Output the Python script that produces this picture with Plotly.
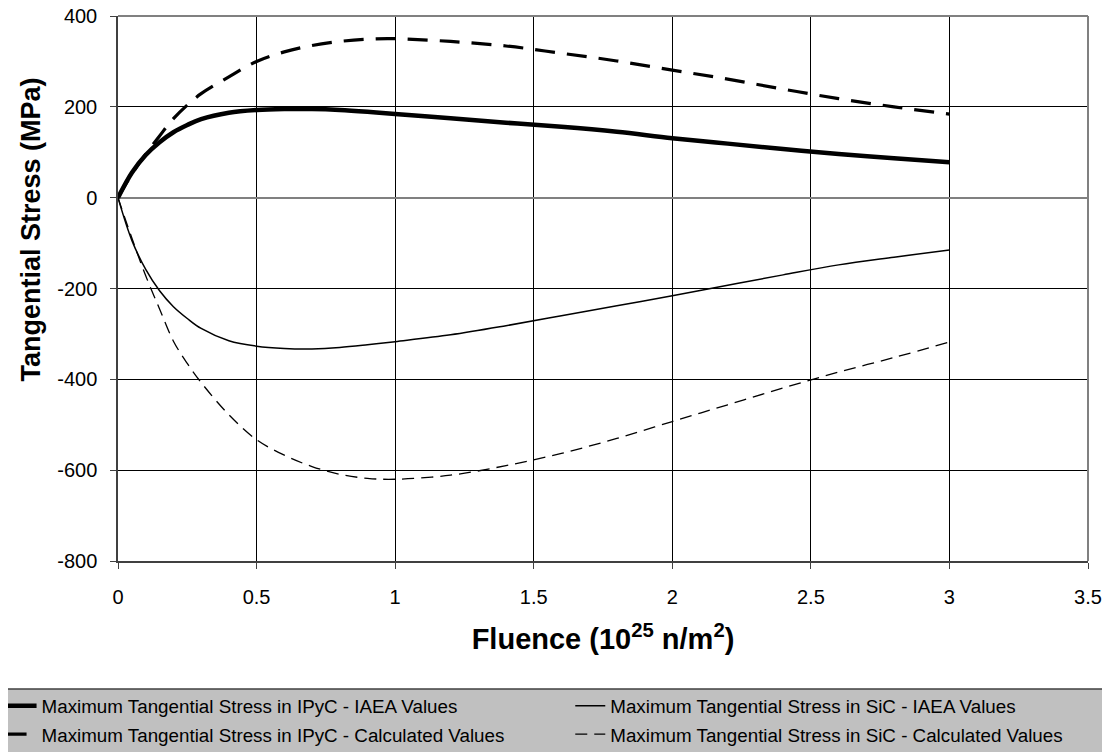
import plotly.graph_objects as go

fluence = [0, 0.05, 0.1, 0.15, 0.2, 0.25, 0.3, 0.4, 0.5, 0.6, 0.7, 0.8, 0.9, 1.0,
           1.2, 1.4, 1.6, 1.8, 2.0, 2.2, 2.4, 2.6, 2.8, 3.0]

ipyc_iaea = [0, 55, 94, 122, 144, 160, 173, 187, 193, 195, 195, 193, 189, 184,
             175, 165, 156, 145, 131, 119, 107, 96, 87, 78]
ipyc_calc = [0, 52, 96, 136, 174, 204, 229, 266, 300, 321, 335, 344, 349, 350,
             344, 334, 318, 301, 281, 261, 239, 218, 200, 184]
sic_iaea = [0, -94, -158, -205, -240, -266, -288, -315, -327, -332, -333, -330, -324, -317,
            -302, -282, -260, -238, -216, -193, -170, -148, -131, -115]
sic_calc = [0, -89, -172, -245, -316, -365, -407, -478, -533, -567, -592, -609, -618, -620,
            -611, -590, -563, -530, -493, -456, -419, -384, -352, -318]

names = [
    "Maximum Tangential Stress in IPyC - IAEA Values",
    "Maximum Tangential Stress in IPyC - Calculated Values",
    "Maximum Tangential Stress in SiC - IAEA Values",
    "Maximum Tangential Stress in SiC - Calculated Values",
]

x_ticks = [0, 0.5, 1, 1.5, 2, 2.5, 3, 3.5]
x_ticklabels = ["0", "0.5", "1", "1.5", "2", "2.5", "3", "3.5"]
y_ticks = [400, 200, 0, -200, -400, -600, -800]
y_ticklabels = ["400", "200", "0", "-200", "-400", "-600", "-800"]

FONT = "Liberation Sans, Arial, sans-serif"

fig = go.Figure()
fig.add_trace(go.Scatter(x=fluence, y=ipyc_iaea, mode="lines", name=names[0],
                         line=dict(color="black", width=4.5, shape="spline"),
                         legend="legend", legendgroup="a"))
fig.add_trace(go.Scatter(x=fluence, y=ipyc_calc, mode="lines", name=names[1],
                         line=dict(color="black", width=3.2, shape="spline", dash="20px,12px"),
                         legend="legend", legendgroup="b"))
fig.add_trace(go.Scatter(x=fluence, y=sic_iaea, mode="lines", name=names[2],
                         line=dict(color="black", width=1.5, shape="spline"),
                         legend="legend2", legendgroup="c"))
fig.add_trace(go.Scatter(x=fluence, y=sic_calc, mode="lines", name=names[3],
                         line=dict(color="black", width=1.3, shape="spline", dash="12px,7px"),
                         legend="legend2", legendgroup="d"))

# page body has an 8px margin; figure coords are page coords minus 8
W, H = 1102, 744
L, R, T, B = 109.5, 22, 8, 191
pw = W - L - R
ph = H - T - B

def px(xp):
    return (xp - L) / pw

def py(yp):
    return (H - B - yp) / ph

fig.add_shape(type="rect", xref="paper", yref="paper",
              x0=px(-3), x1=px(W + 3), y0=py(681), y1=py(H + 3),
              fillcolor="#c0c0c0", line=dict(color="#404040", width=1.5), layer="below")

leg_common = dict(orientation="v", bgcolor="rgba(0,0,0,0)", borderwidth=0,
                  font=dict(family=FONT, size=18.8, color="black"),
                  tracegroupgap=1, yanchor="top", xanchor="left",
                  xref="paper", yref="container")

fig.add_annotation(text="<b>Tangential Stress (MPa)</b>", textangle=-90,
                   xref="paper", yref="paper", x=px(22), y=py(222),
                   xanchor="center", yanchor="middle", showarrow=False,
                   font=dict(family=FONT, size=27, color="black"))

fig.update_layout(
    width=W, height=H,
    margin=dict(l=L, r=R, t=T, b=B, autoexpand=False),
    paper_bgcolor="white", plot_bgcolor="white",
    font=dict(family=FONT, size=20, color="black"),
    legend=dict(x=px(-7), y=(H - 679) / H, **leg_common),
    legend2=dict(x=px(562), y=(H - 679) / H, **leg_common),
    xaxis=dict(range=[0, 3.5], tickvals=x_ticks, ticktext=x_ticklabels,
               showgrid=True, gridcolor="black", gridwidth=1,
               showline=True, linecolor="#404040", linewidth=1.5, mirror=False,
               ticks="outside", ticklen=6, tickcolor="#404040",
               tickfont=dict(size=20), zeroline=False, ticklabelstandoff=11,
               ticklabeloverflow="allow",
               title=dict(text="<b>Fluence (10<sup>25</sup> n/m<sup>2</sup>)</b>",
                          font=dict(size=29), standoff=22)),
    yaxis=dict(range=[-800, 400], tickvals=y_ticks, ticktext=y_ticklabels,
               showgrid=True, gridcolor="black", gridwidth=1,
               showline=True, linecolor="#404040", linewidth=1.5,
               ticks="outside", ticklen=6, tickcolor="#404040", ticklabelstandoff=9,
               ticklabeloverflow="allow",
               tickfont=dict(size=20), zeroline=True, zerolinecolor="#808080", zerolinewidth=2),
)

# top and right plot border (gray)
fig.add_shape(type="line", xref="paper", yref="paper", x0=0, x1=1, y0=1, y1=1,
              line=dict(color="#808080", width=2))
fig.add_shape(type="line", xref="paper", yref="paper", x0=1, x1=1, y0=0, y1=1,
              line=dict(color="#808080", width=2))

fig.write_html("out.html")
